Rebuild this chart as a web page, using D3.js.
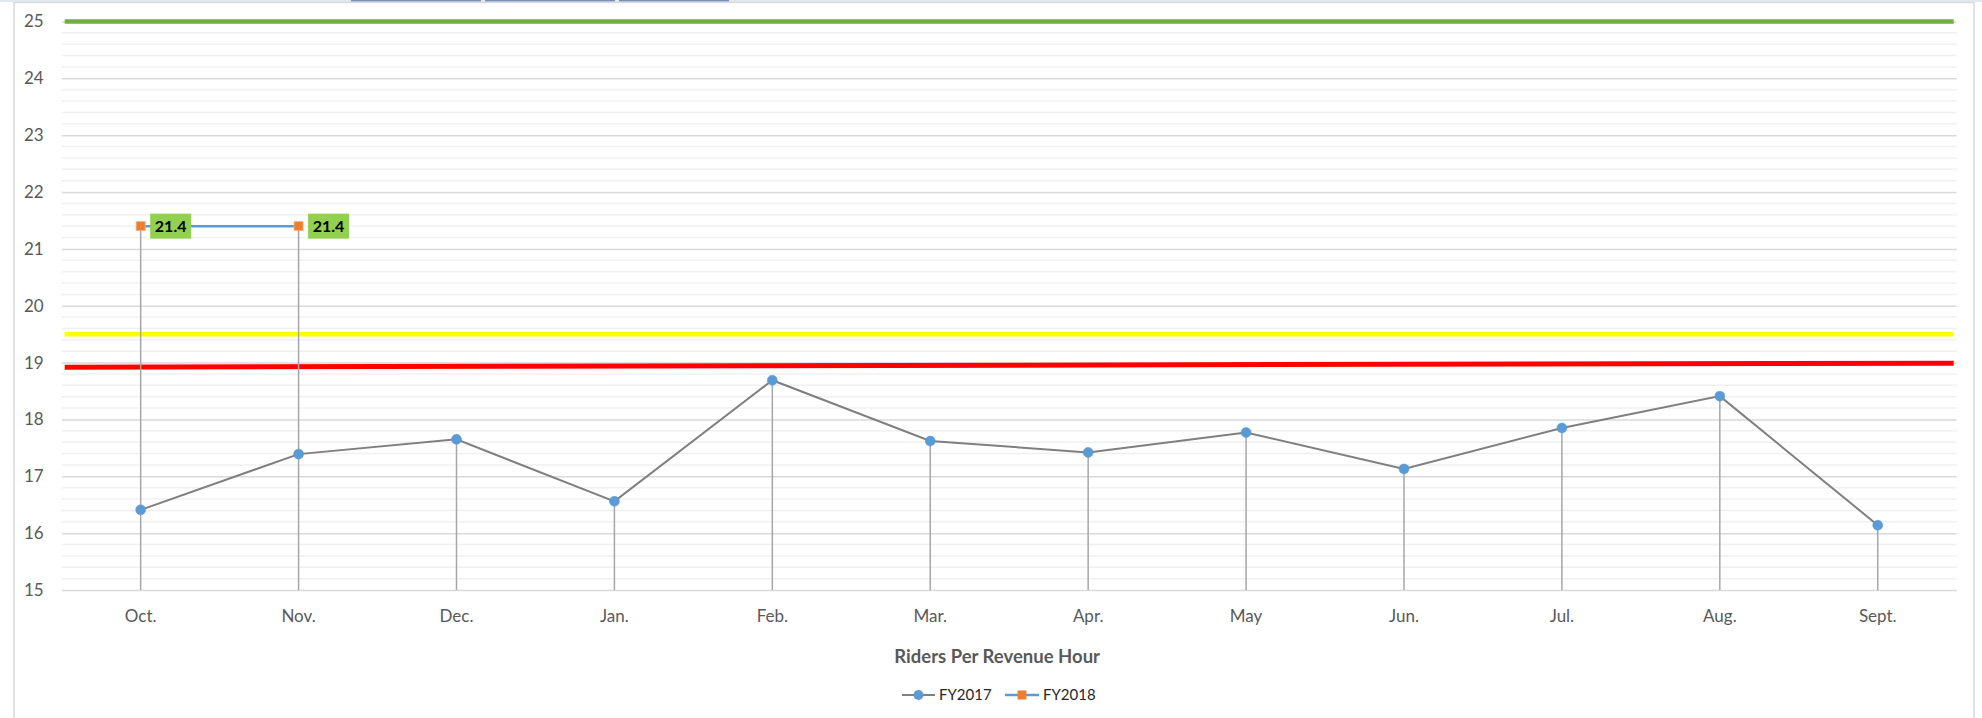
<!DOCTYPE html>
<html>
<head>
<meta charset="utf-8">
<script src="https://cdn.jsdelivr.net/npm/d3@7"></script>
<style>
  html, body { margin: 0; padding: 0; background: #fff; }
  svg { display: block; }
  text { font-family: Lato, "Open Sans", sans-serif; }
</style>
</head>
<body>
<svg id="chart" width="1982" height="718"></svg>
<script>
// ---- data ----
const months = ["Oct.", "Nov.", "Dec.", "Jan.", "Feb.", "Mar.", "Apr.", "May", "Jun.", "Jul.", "Aug.", "Sept."];
const fy2017 = [16.41, 17.39, 17.65, 16.56, 18.69, 17.62, 17.42, 17.77, 17.13, 17.85, 18.41, 16.14];
const fy2018 = [21.4, 21.4];
const yTicks = [15, 16, 17, 18, 19, 20, 21, 22, 23, 24, 25];
const greenTarget = [25, 25];
const yellowTarget = [19.5, 19.5];
const redTarget = [18.92, 18.99];
const seriesNames = ["FY2017", "FY2018"];
const chartTitle = "Riders Per Revenue Hour";

// ---- layout ----
const svg = d3.select("#chart");
const W = 1982, H = 718;
const plot = { left: 61.7, right: 1956.7, top: 21.5, bottom: 590 };

const x = d3.scaleBand().domain(months).range([plot.left, plot.right]).padding(0);
const xc = m => x(m) + x.bandwidth() / 2;
const y = d3.scaleLinear().domain([15, 25]).range([plot.bottom, plot.top]);

// page artifacts / frame
svg.append("rect").attr("x", 0).attr("y", 0).attr("width", W).attr("height", 2).attr("fill", "#e3e8ef");
[[351, 481], [485, 615], [619, 729]].forEach(s => {
  svg.append("rect").attr("x", s[0]).attr("y", 0).attr("width", s[1] - s[0]).attr("height", 1.5).attr("fill", "#7890b8");
});
svg.append("rect").attr("x", 14).attr("y", 2.5).attr("width", 1960).attr("height", H + 10)
  .attr("fill", "#fff").attr("stroke", "#d9d9d9").attr("stroke-width", 1.5);

// minor gridlines
const minor = d3.range(15, 25.001, 0.2).filter(v => Math.abs(v - Math.round(v)) > 0.01);
svg.append("g").selectAll("line").data(minor).join("line")
  .attr("x1", plot.left).attr("x2", plot.right)
  .attr("y1", d => y(d)).attr("y2", d => y(d))
  .attr("stroke", "#f0f0f0").attr("stroke-width", 1.5);

// major gridlines / y axis
const yAxis = d3.axisLeft(y).tickValues(yTicks).tickSize(-(plot.right - plot.left)).tickPadding(18).tickFormat(d3.format("d"));
const gy = svg.append("g").attr("transform", `translate(${plot.left},0)`).call(yAxis);
gy.select(".domain").remove();
gy.selectAll(".tick line").attr("stroke", "#d9d9d9").attr("stroke-width", 1.5);
gy.selectAll(".tick text").attr("fill", "#595959").style("font-size", "17px").attr("x", -18);

// x axis labels
const xAxis = d3.axisBottom(x).tickSize(0).tickPadding(20);
const gx = svg.append("g").attr("transform", `translate(0,${plot.bottom})`).call(xAxis);
gx.select(".domain").remove();
gx.selectAll(".tick text").attr("fill", "#595959").style("font-size", "17px");

// target lines
const tx = d3.scaleLinear().domain([0, 1]).range([plot.left + 3, plot.right - 3]);
const tline = d3.line().x((d, i) => tx(i)).y(d => y(d));
svg.append("path").datum(greenTarget).attr("d", tline).attr("stroke", "#70ad47").attr("stroke-width", 4.5).attr("fill", "none");
svg.append("path").datum(yellowTarget).attr("d", tline).attr("stroke", "#ffff00").attr("stroke-width", 4.5).attr("fill", "none");
svg.append("path").datum(redTarget).attr("d", tline).attr("stroke", "#ff0000").attr("stroke-width", 5).attr("fill", "none");

// drop lines
const drops = fy2017.map((v, i) => ({ m: months[i], v: Math.max(v, fy2018[i] !== undefined ? fy2018[i] : v) }));
svg.append("g").selectAll("line").data(drops).join("line")
  .attr("x1", d => xc(d.m)).attr("x2", d => xc(d.m))
  .attr("y1", d => y(d.v)).attr("y2", y(15))
  .attr("stroke", "#a6a6a6").attr("stroke-width", 1.5);

// FY2017 line
const line = d3.line().x(d => xc(d.m)).y(d => y(d.v));
const d17 = fy2017.map((v, i) => ({ m: months[i], v }));
svg.append("path").datum(d17).attr("d", line).attr("fill", "none").attr("stroke", "#7f7f7f").attr("stroke-width", 2);
svg.append("g").selectAll("circle").data(d17).join("circle")
  .attr("cx", d => xc(d.m)).attr("cy", d => y(d.v)).attr("r", 5)
  .attr("fill", "#5b9bd5").attr("stroke", "#5b9bd5").attr("stroke-width", 0.5);

// FY2018 line
const d18 = fy2018.map((v, i) => ({ m: months[i], v }));
svg.append("path").datum(d18).attr("d", line).attr("fill", "none").attr("stroke", "#5b9bd5").attr("stroke-width", 2.5);
svg.append("g").selectAll("rect").data(d18).join("rect")
  .attr("x", d => xc(d.m) - 4.5).attr("y", d => y(d.v) - 4.5).attr("width", 9).attr("height", 9)
  .attr("fill", "#ed7d31").attr("stroke", "#f4b183").attr("stroke-width", 0.75);

// data labels
const lab = svg.append("g").selectAll("g").data(d18).join("g")
  .attr("transform", d => `translate(${xc(d.m) + 9.5},${y(d.v)})`);
lab.append("rect").attr("x", 0).attr("y", -12.5).attr("width", 41).attr("height", 25).attr("fill", "#92d050");
lab.append("text").attr("x", 20.5).attr("y", 0).attr("dy", "0.35em").attr("text-anchor", "middle")
  .style("font-size", "16px").style("font-weight", "bold").attr("fill", "#000")
  .text(d => d3.format(".1f")(d.v));

// title
svg.append("text").attr("x", (plot.left + plot.right) / 2 - 12).attr("y", 657).attr("dy", "0.35em")
  .attr("text-anchor", "middle").style("font-size", "18.5px").style("font-weight", "bold").attr("fill", "#595959")
  .text(chartTitle);

// legend
const leg = svg.append("g").attr("transform", "translate(0,695)");
const l1 = leg.append("g").attr("transform", "translate(902,0)");
l1.append("line").attr("x1", 0).attr("x2", 33).attr("y1", 0).attr("y2", 0).attr("stroke", "#7f7f7f").attr("stroke-width", 2);
l1.append("circle").attr("cx", 16.5).attr("cy", 0).attr("r", 5).attr("fill", "#5b9bd5");
l1.append("text").attr("x", 37).attr("y", 0).attr("dy", "0.35em").style("font-size", "15px").attr("fill", "#262626").text(seriesNames[0]);
const l2 = leg.append("g").attr("transform", "translate(1005,0)");
l2.append("line").attr("x1", 0).attr("x2", 34).attr("y1", 0).attr("y2", 0).attr("stroke", "#5b9bd5").attr("stroke-width", 2.5);
l2.append("rect").attr("x", 12.5).attr("y", -4.5).attr("width", 9).attr("height", 9).attr("fill", "#ed7d31");
l2.append("text").attr("x", 38).attr("y", 0).attr("dy", "0.35em").style("font-size", "15px").attr("fill", "#262626").text(seriesNames[1]);
</script>
</body>
</html>
